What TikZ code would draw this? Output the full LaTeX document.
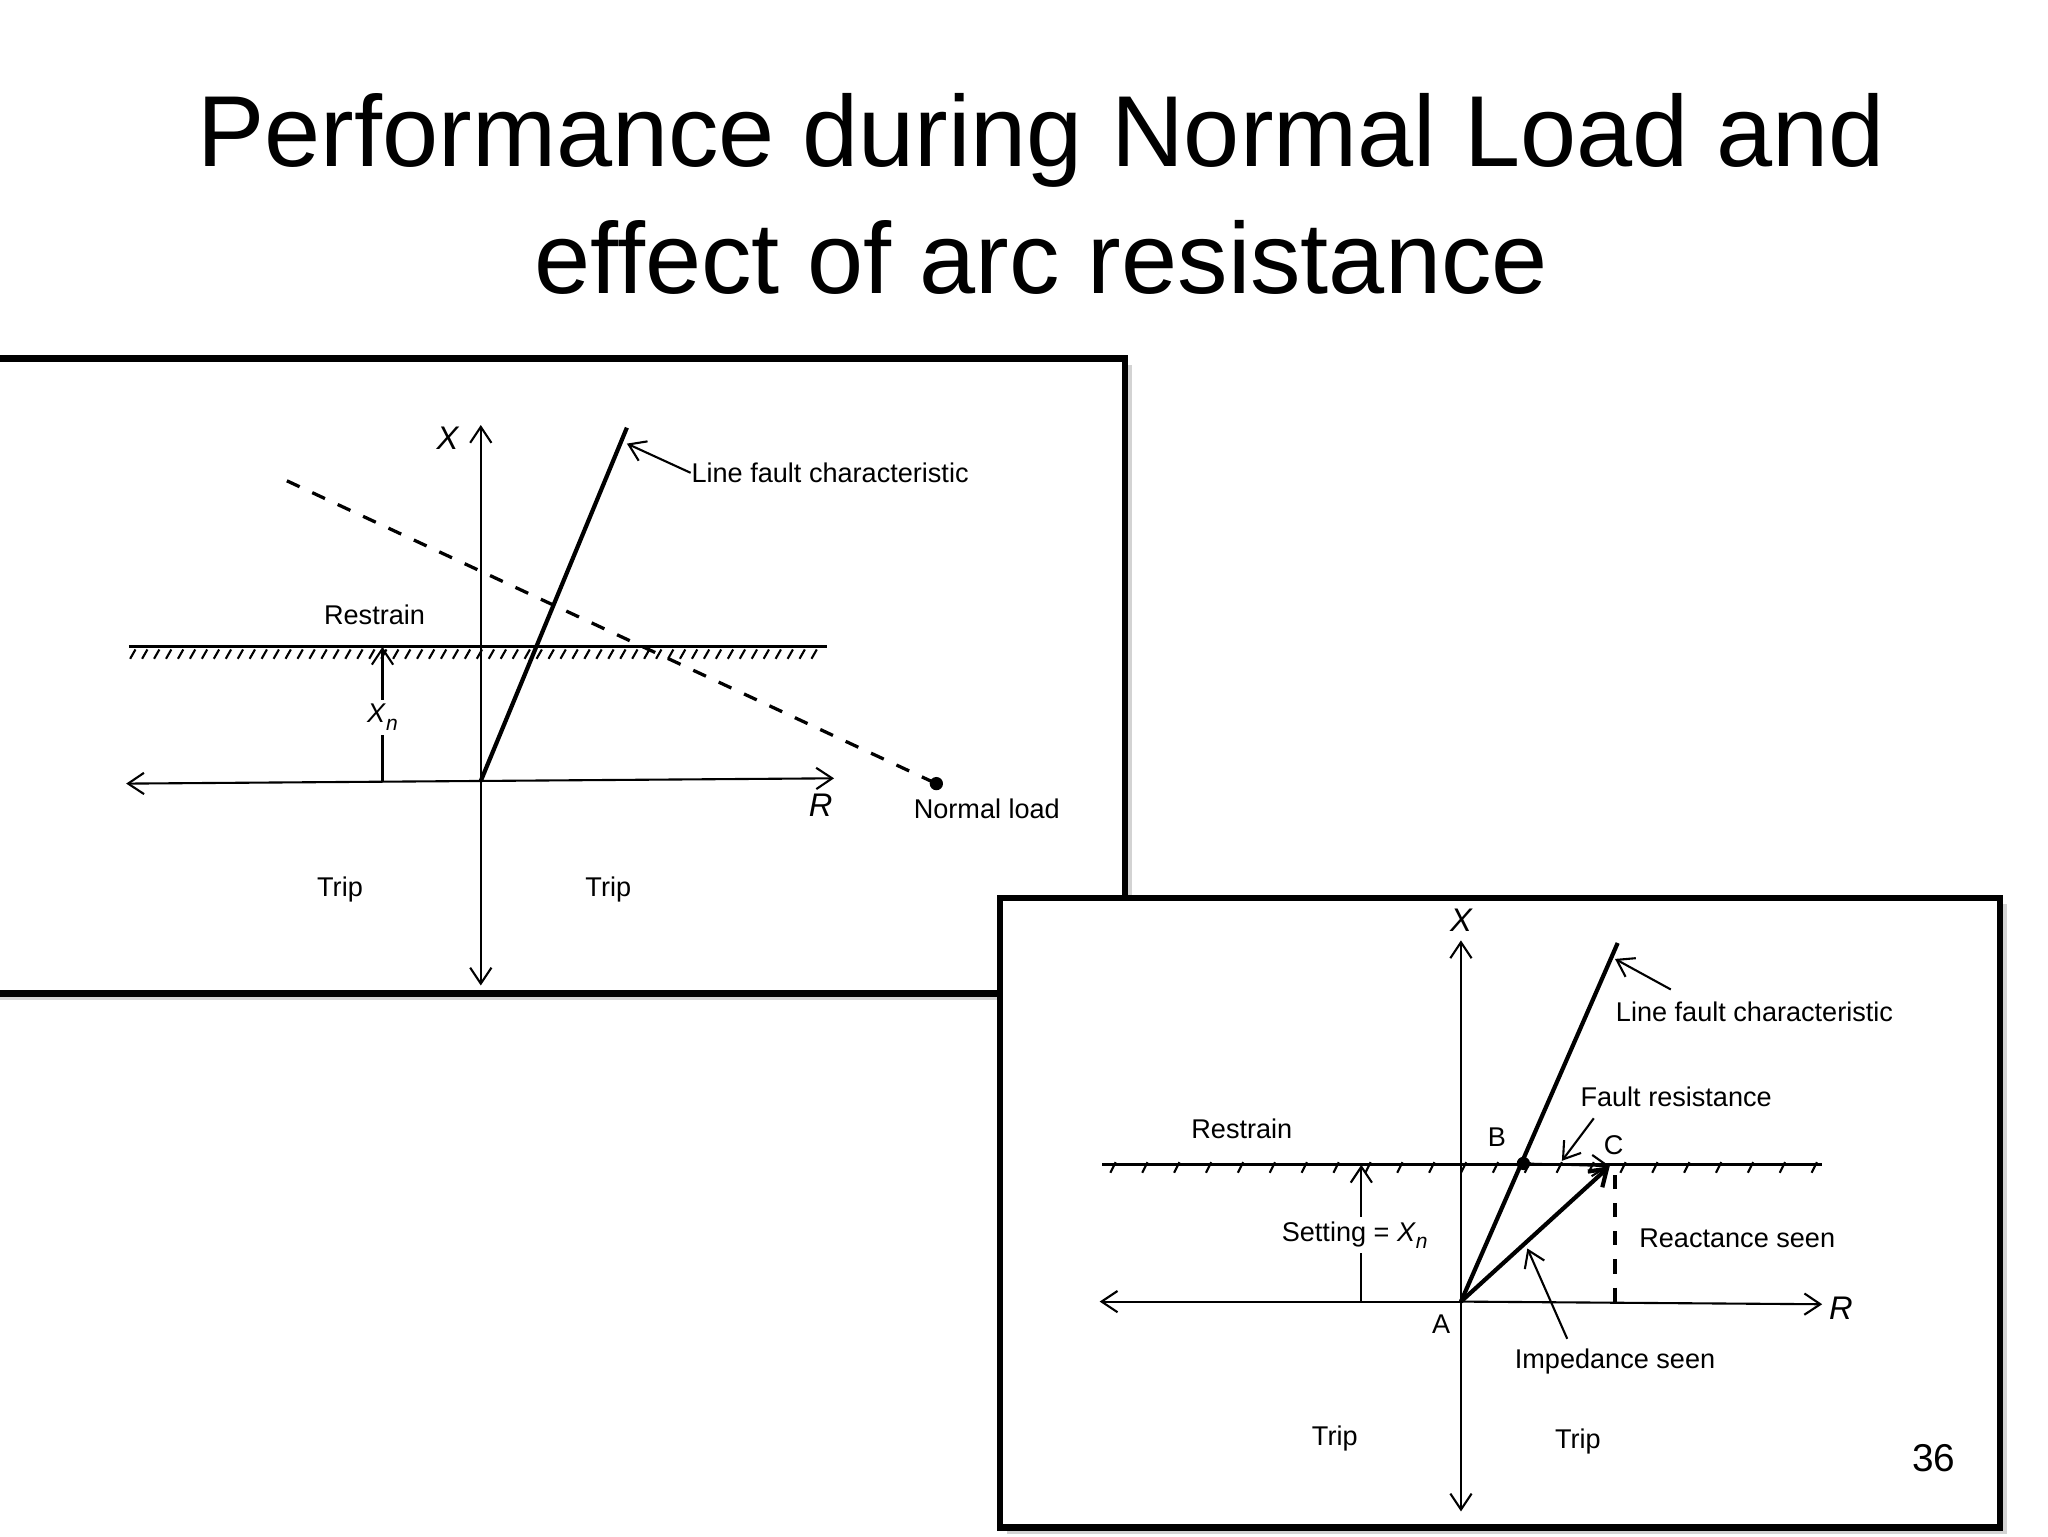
\documentclass[tikz,border=0pt]{standalone}
\usepackage{fontspec}
\setmainfont{Liberation Sans}
\usetikzlibrary{arrows.meta,shadows}
\newcommand{\Xsub}{\textit{X}\raisebox{-0.5ex}{\fontsize{4.5}{5}\selectfont\itshape n}}
\begin{document}
\begin{tikzpicture}[x=0.01cm,y=-0.01cm,
  box/.style={draw,line width=1.4pt,fill=white,drop shadow={shadow xshift=0.05cm,shadow yshift=-0.05cm,opacity=0.35}},
  ax/.style={line width=0.45pt,-{Straight Barb[length=1.2mm,width=1.6mm]}},
  lbl/.style={font=\fontsize{5.8}{7}\selectfont,inner sep=0pt},
  thin/.style={line width=0.45pt}]
\useasboundingbox (0,0) rectangle (1542,1157);
\node[font=\fontsize{21.6}{27}\selectfont,align=center] (title) at (784,146) {Performance during Normal Load and\\effect of arc resistance};
% ---------- left panel
\draw[box] (-10,270) rectangle (847,748);
\coordinate (O1) at (362,588);
\coordinate (Xt1) at (362,320); \coordinate (Xb1) at (362,742);
\coordinate (Rl1) at (95,590); \coordinate (Rr1) at (628,586);
\draw[ax] (O1) -- (Xt1); \draw[ax] (O1) -- (Xb1);
\draw[ax] (O1) -- (Rl1); \draw[ax] (O1) -- (Rr1);
\node[lbl,font=\fontsize{7}{8}\selectfont\itshape] (X1) at (337,330) {X};
\node[lbl,font=\fontsize{7}{8}\selectfont\itshape] (R1) at (618,606) {R};
\coordinate (L1) at (472,322);
\draw[line width=0.9pt] (O1) -- (L1);
\node[lbl,anchor=west] (lfc1) at (520,356) {Line fault characteristic};
\draw[ax] (lfc1.west) -- (472,334);
\coordinate (D1) at (216,362); \coordinate (N1) at (705,590);
\draw[thin,dashed,line width=0.7pt] (D1) -- (N1);
\fill (N1) circle (5);
\node[lbl] (nl) at (743,609) {Normal load};
\coordinate (RA1) at (97,487); \coordinate (RB1) at (623,487);
\draw[line width=0.6pt] (RA1) -- (RB1);
\foreach \x in {100,109,...,620} \draw[thin] (\x+2,489) -- (\x-2,496);
\node[lbl] (rs1) at (282,463) {Restrain};
\coordinate (xa) at (288,588); \coordinate (xb) at (288,487);
\draw[ax] (xa) -- (xb);
\node[lbl,fill=white,inner sep=1pt] (xn1) at (288,540) {\Xsub};
\node[lbl] (t1) at (256,670) {Trip};
\node[lbl] (t2) at (458,670) {Trip};
% ---------- right panel
\draw[box] (753,676) rectangle (1506,1150);
\coordinate (A) at (1100,980);
\coordinate (Xt2) at (1100,708); \coordinate (Xb2) at (1100,1138);
\coordinate (Rl2) at (828,980); \coordinate (Rr2) at (1372,982);
\draw[ax] (A) -- (Xt2); \draw[ax] (A) -- (Xb2);
\draw[ax] (A) -- (Rl2); \draw[ax] (A) -- (Rr2);
\node[lbl,font=\fontsize{7}{8}\selectfont\itshape] (X2) at (1100,693) {X};
\node[lbl,font=\fontsize{7}{8}\selectfont\itshape] (R2) at (1386,985) {R};
\coordinate (L2) at (1218,710);
\draw[line width=0.9pt] (A) -- (L2);
\node[lbl,anchor=west] (lfc2) at (1216,762) {Line fault characteristic};
\draw[ax] (1258,745) -- (1216,722);
\coordinate (RA2) at (830,877); \coordinate (RB2) at (1372,877);
\draw[line width=0.6pt] (RA2) -- (RB2);
\foreach \x in {836,860,...,1370} \draw[thin] (\x,883) -- (\x+4,875);
\node[lbl] (rs2) at (935,850) {Restrain};
\coordinate (B) at (1147,876); \coordinate (C) at (1212,878);
\fill (B) circle (5);
\node[lbl] (Bl) at (1127,856) {B};
\node[lbl] (Cl) at (1215,862) {C};
\draw[ax] (B) -- (C);
\draw[ax,line width=0.9pt] (A) -- (C);
\draw[thin,dashed,line width=0.7pt] (1216,885) -- (1216,982);
\node[lbl] (rseen) at (1308,932) {Reactance seen};
\node[lbl] (fr) at (1262,826) {Fault resistance};
\draw[ax] (1200,842) -- (1176,874);
\node[lbl] (iseen) at (1216,1025) {Impedance seen};
\draw[ax] (1180,1008) -- (1150,940);
\coordinate (sa) at (1025,980); \coordinate (sb) at (1025,877);
\draw[ax] (sa) -- (sb);
\node[lbl,fill=white,inner sep=1pt] (set) at (1020,930) {Setting = \Xsub};
\node[lbl] (Al) at (1085,997) {A};
\node[lbl] (t3) at (1005,1083) {Trip};
\node[lbl] (t4) at (1188,1085) {Trip};
\node[font=\fontsize{8.3}{10}\selectfont] (pg) at (1456,1098) {36};
\end{tikzpicture}
\end{document}
